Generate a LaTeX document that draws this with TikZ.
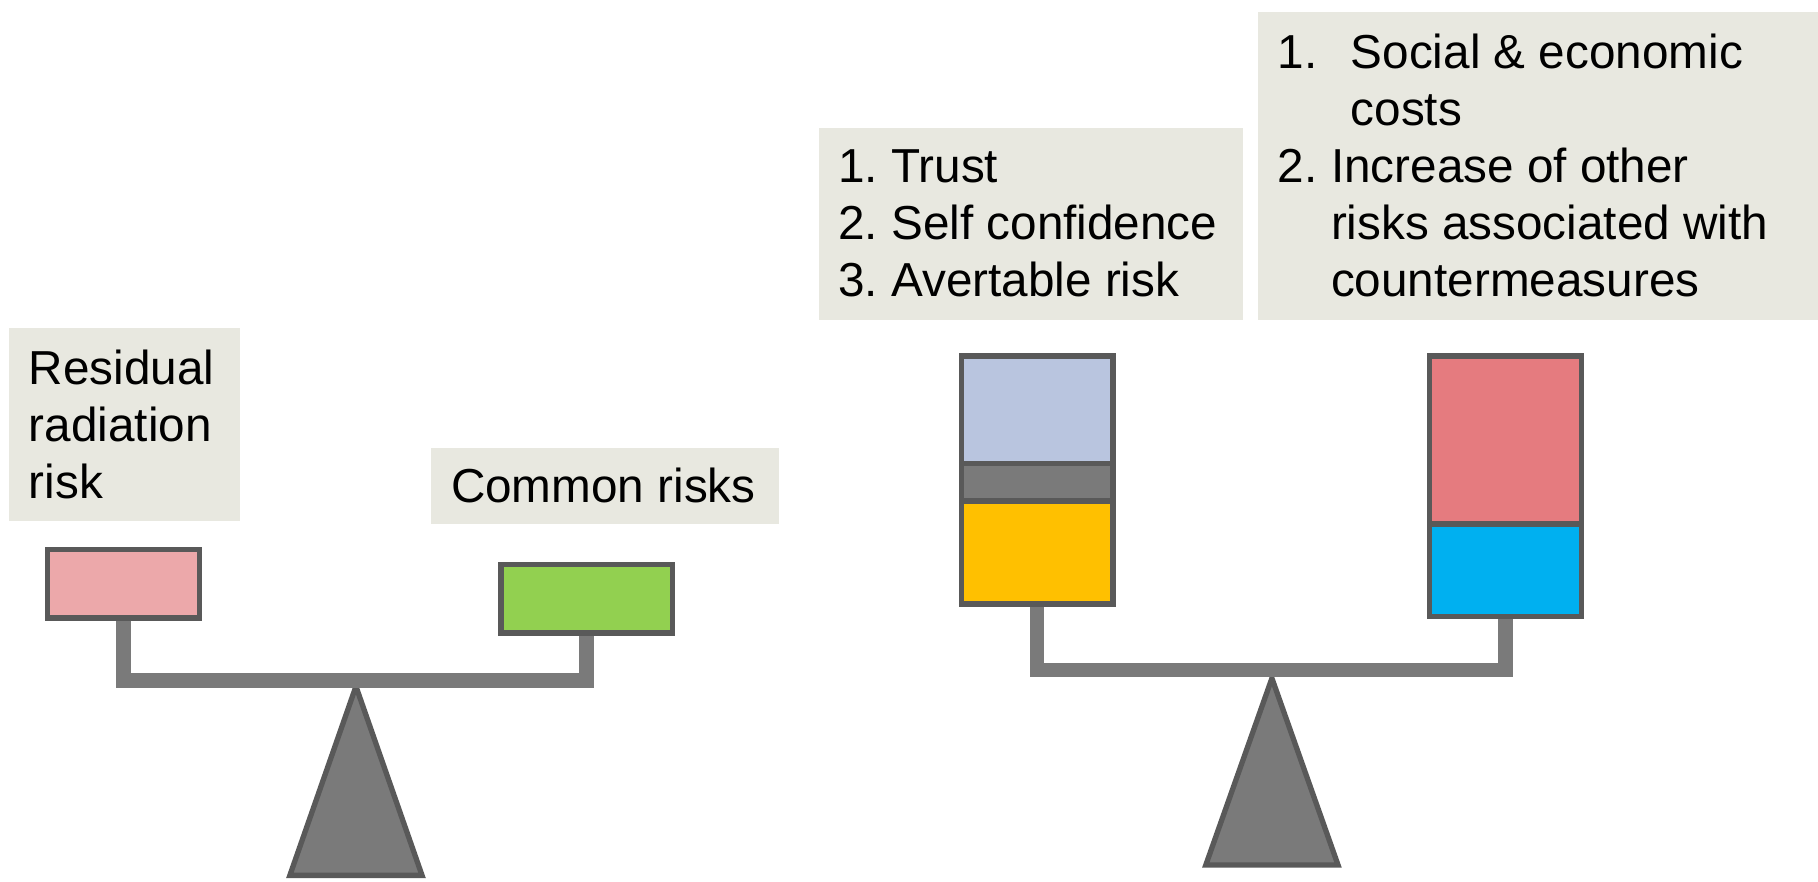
\documentclass[tikz,border=0pt]{standalone}
\usepackage{fontspec}
\setmainfont{Liberation Sans}
\usetikzlibrary{positioning}
\hyphenpenalty=10000
\frenchspacing

\definecolor{labelbg}{RGB}{232,232,224}
\definecolor{edgegray}{RGB}{89,89,89}
\definecolor{beamgray}{RGB}{122,122,122}
\definecolor{pinkrisk}{RGB}{236,168,170}
\definecolor{greenrisk}{RGB}{146,208,80}
\definecolor{trustblue}{RGB}{185,197,223}
\definecolor{avertyellow}{RGB}{255,192,0}
\definecolor{costred}{RGB}{229,123,127}
\definecolor{othercyan}{RGB}{0,176,240}

\tikzset{
  captionbox/.style={fill=labelbg, align=flush left, inner xsep=0.17cm, inner ysep=0pt,
    font=\fontsize{11.7}{14}\selectfont},
  weight/.style={draw=edgegray, line width=1.3pt, minimum width=1.31cm,
    inner sep=0pt, outer sep=0pt},
  beam/.style={draw=beamgray, line width=0.125cm, line join=miter,
    shorten <=0.65pt, shorten >=0.65pt},
  stand/.style={draw=edgegray, fill=beamgray, line width=1.3pt}
}

\begin{document}
\begin{tikzpicture}
\useasboundingbox (0,0) rectangle (15.68,7.60);

% stands
\coordinate (lapex) at (3.07,1.68);
\coordinate (rapex) at (10.97,1.75);
\draw[stand] (lapex) -- ++(-0.57,-1.63) -- ++(1.14,0) -- cycle;
\draw[stand] (rapex) -- ++(-0.57,-1.61) -- ++(1.14,0) -- cycle;

% labels
\node[captionbox, text width=1.65cm, minimum height=1.66cm] (resid) at (1.075,3.94) {Residual\\radiation\\risk};
\node[captionbox, text width=2.66cm, minimum height=0.66cm] (common) at (5.22,3.41) {Common risks};
\node[captionbox, text width=3.32cm, minimum height=1.66cm] (trust) at (8.89,5.67) {1. Trust\\2. Self confidence\\3. Avertable risk};
\node[captionbox, text width=4.49cm, minimum height=2.66cm] (costs) at (13.265,6.17) {\makebox[0.63cm][l]{1.}Social \& economic\\\hspace*{0.63cm}costs\\\makebox[0.46cm][l]{2.}Increase of other\\\hspace*{0.46cm}risks associated with\\\hspace*{0.46cm}countermeasures};

% weights
\node[weight, fill=pinkrisk, minimum height=0.59cm] (resw) at (1.065,2.565) {};
\node[weight, fill=greenrisk, minimum width=1.48cm, minimum height=0.59cm] (comw) at (5.06,2.435) {};
\node[weight, fill=trustblue, minimum height=0.93cm] (trustw) at (8.945,4.065) {};
\node[weight, fill=beamgray, minimum height=0.32cm, below=0pt of trustw] (selfw) {};
\node[weight, fill=avertyellow, minimum height=0.89cm, below=0pt of selfw] (avertw) {};
\node[weight, fill=costred, minimum height=1.45cm] (costw) at (12.985,3.805) {};
\node[weight, fill=othercyan, minimum height=0.80cm, below=0pt of costw] (otherw) {};

% beams
\coordinate (lbar) at (3.07,1.73);
\coordinate (rbar) at (10.97,1.82);
\draw[beam] (resw.south) |- (lbar) -| (comw.south);
\draw[beam] (avertw.south) |- (rbar) -| (otherw.south);
\end{tikzpicture}
\end{document}
